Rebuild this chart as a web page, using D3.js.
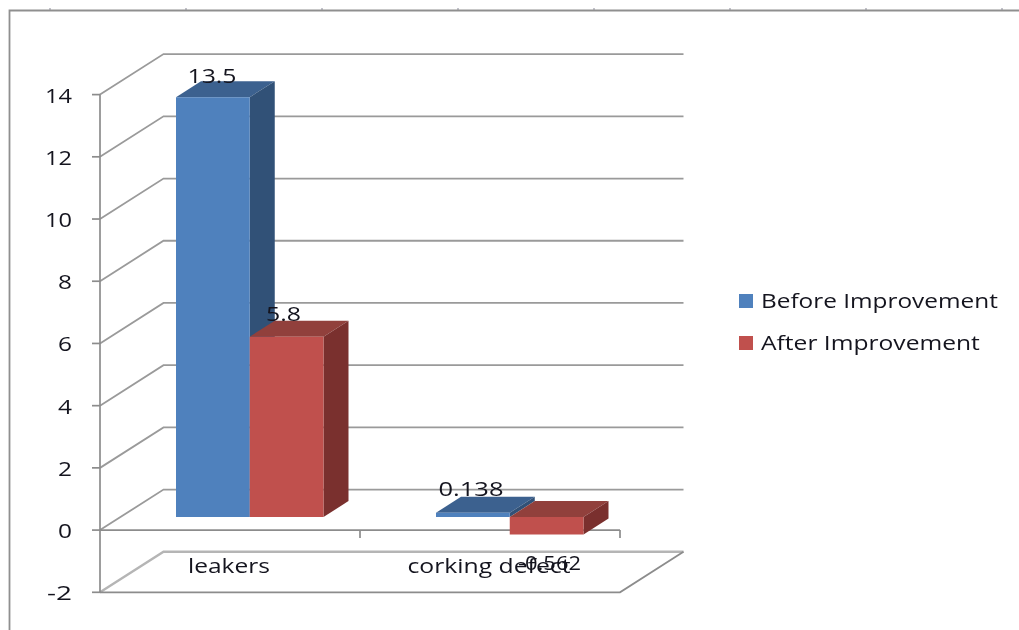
<!DOCTYPE html>
<html><head><meta charset="utf-8">
<script src="https://cdn.jsdelivr.net/npm/d3@7"></script>
<style>
html,body{margin:0;padding:0;background:#fff;overflow:hidden}
svg{display:block;filter:blur(0.7px)}
text{font-family:"Open Sans",sans-serif;fill:#14141e;font-size:20px}
</style></head><body>
<svg id="c" width="1019" height="630"></svg>
<script>
const categories = ["leakers", "corking defect"];
const seriesNames = ["Before Improvement", "After Improvement"];
const before = [13.5, 0.138];
const after = [5.8, -0.562];
const tickValues = [-2, 0, 2, 4, 6, 8, 10, 12, 14];
const beforeColors = {front:"#4f81bd", top:"#3c618f", side:"#315177"};
const afterColors = {front:"#c0504d", top:"#91403c", side:"#7a302e"};

const W = 1019, H = 630;
const svg = d3.select("#c");
const y = d3.scaleLinear().domain([-2, 14]).range([592.3, 94.6]);
const x0 = d3.scaleBand().domain(categories).range([100, 620]);
const x1 = d3.scaleBand().domain(seriesNames).range([0, 147.5]);
const wallDx = 63.5, wallDy = -40.5;
const barShiftY = -13, depthX = 25, depthY = -16;
const grid = "#9a9a9a", axisC = "#8c8c8c";

// width of each text in the reference, with its glyphs stretched to fit
function label(sel, width){
  const n = sel.node();
  const a = sel.attr("text-anchor") || "start";
  const x = +sel.attr("x");
  const natural = n.getComputedTextLength();
  const left = a === "middle" ? x - width/2 : a === "end" ? x - width : x;
  sel.attr("text-anchor","start").attr("x",null)
     .attr("transform",`translate(${left},0) scale(${width/natural},1)`);
  return sel;
}

// outer frame
svg.selectAll(".rule").data(d3.range(50, W, 136)).join("line")
  .attr("x1",d=>d).attr("x2",d=>d).attr("y1",8).attr("y2",10).attr("stroke","#c4c4cc").attr("stroke-width",2);
svg.append("path").attr("d", `M9.5,${H}V10.5H${W}`).attr("fill","none").attr("stroke","#8f8f8f").attr("stroke-width",1.8);

// walls and grid
const g = svg.append("g").attr("fill","none").attr("stroke",grid).attr("stroke-width",1.8);
tickValues.forEach(v=>{
  const py = y(v);
  g.append("path").attr("d",`M${x0.range()[0]},${py}l${wallDx},${wallDy}H${x0.range()[1]+wallDx}`)
    .attr("stroke", v===-2 ? "#b5b5b5" : grid).attr("stroke-width", v===-2 ? 2.4 : 1.8);
});
g.append("path").attr("d",`M${x0.range()[0]},${y(-2)}H${x0.range()[1]}l${wallDx},${wallDy}`).attr("stroke",axisC);
// axes
const ax = svg.append("g").attr("fill","none").attr("stroke",axisC).attr("stroke-width",1.7);
ax.append("line").attr("x1",100).attr("x2",100).attr("y1",y(14)).attr("y2",y(-2));
tickValues.forEach(v=>ax.append("line").attr("x1",92).attr("x2",100).attr("y1",y(v)).attr("y2",y(v)));
ax.append("line").attr("x1",100).attr("x2",620).attr("y1",y(0)).attr("y2",y(0));
categories.forEach(c=>{
  const xx = x0(c)+x0.bandwidth();
  ax.append("line").attr("x1",xx).attr("x2",xx).attr("y1",y(0)).attr("y2",y(0)+8);
});

// tick labels
tickValues.forEach(v=>{
  const s = svg.append("text").attr("x",72).attr("y",y(v)+8).attr("text-anchor","end").text(v);
  label(s, String(v).length===2 ? (v<0 ? 25 : 27) : 14);
});

function bar(cat, ser, val, col){
  const xl = x0(cat) + x0.bandwidth()/2 - 54 + x1(ser);
  const xr = xl + x1.bandwidth();
  const yTop = y(Math.max(val,0)) + barShiftY;
  const yBot = y(Math.min(val,0)) + barShiftY;
  const b = svg.append("g");
  const poly = (pts,fill)=>b.append("polygon").attr("points",pts.map(p=>p.join(",")).join(" ")).attr("fill",fill);
  poly([[xl,yTop],[xr,yTop],[xr+depthX,yTop+depthY],[xl+depthX,yTop+depthY]],col.top);
  poly([[xr,yTop],[xr+depthX,yTop+depthY],[xr+depthX,yBot+depthY],[xr,yBot]],col.side);
  poly([[xl,yTop],[xr,yTop],[xr,yBot],[xl,yBot]],col.front);
}
categories.forEach((c,i)=>{
  bar(c, seriesNames[0], before[i], beforeColors);
  bar(c, seriesNames[1], after[i], afterColors);
});

// data labels: centre x, baseline y and width
const beforeLabelPos = [[212,83,49],[471,496,65]];
const afterLabelPos = [[283.5,321,35],[549.5,570,63]];
const put = (t,p)=>label(svg.append("text").attr("x",p[0]).attr("y",p[1]).attr("text-anchor","middle").text(t),p[2]);
categories.forEach((c,i)=>{
  put(before[i], beforeLabelPos[i]);
  put(after[i], afterLabelPos[i]);
});

// category labels
const catWidths = [82, 163];
categories.forEach((c,i)=>{
  put(c, [x0(c)+x0.bandwidth()/2-1, 573.5, catWidths[i]]);
});

// legend
const colors = [beforeColors.front, afterColors.front];
const legendY = d3.scalePoint().domain(seriesNames).range([301, 343]);
const legendWidths = [237, 219];
seriesNames.forEach((s,i)=>{
  svg.append("rect").attr("x",739).attr("y",legendY(s)-7).attr("width",14).attr("height",14).attr("fill",colors[i]);
  label(svg.append("text").attr("x",761).attr("y",legendY(s)+7).text(s), legendWidths[i]);
});
</script>
</body></html>
